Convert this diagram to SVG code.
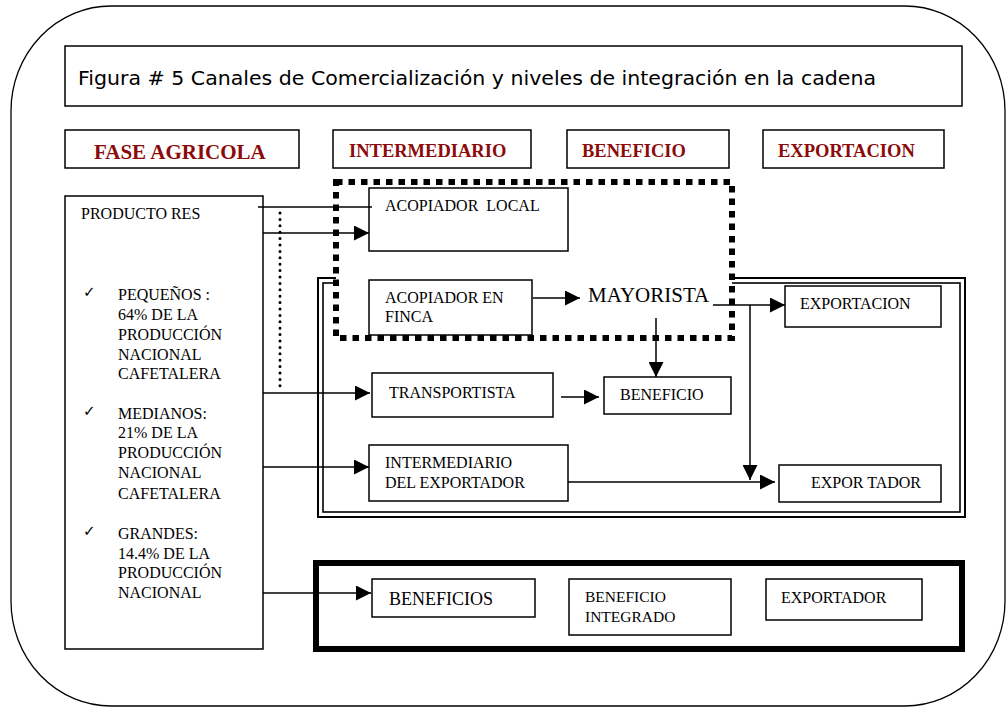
<svg xmlns="http://www.w3.org/2000/svg" width="1008" height="708" viewBox="0 0 1008 708">
<style>
  .box { fill: #fff; stroke: #000; stroke-width: 1.5; }
  .hdr { fill: #fff; stroke: #000; stroke-width: 1.5; }
  .ht { font-family: "Liberation Serif", "Times New Roman", serif; font-weight: bold; fill: #8b0a0a; }
  .t { font-family: "Liberation Serif", "Times New Roman", serif; font-size: 16px; fill: #000; }
  .big { font-size: 21px; }
  .chk { font-family: "DejaVu Sans", sans-serif; font-size: 15px; fill: #000; }
  .con { stroke: #000; stroke-width: 1.5; fill: none; }
  .arr { marker-end: url(#ah); }
</style>
<defs>
  <marker id="ah" markerUnits="userSpaceOnUse" markerWidth="16" markerHeight="15" refX="15" refY="7.5" orient="auto">
    <path d="M0,0 L15,7.5 L0,15 z" fill="#000"/>
  </marker>
</defs>
<rect width="1008" height="708" fill="#fff"/>

<g id="frame">
  <rect x="11" y="6" width="994" height="700" rx="100" ry="105" fill="none" stroke="#000" stroke-width="1.3"/>
</g>

<g id="title">
  <rect x="65" y="46" width="897" height="60" class="box"/>
  <text x="78" y="85" font-family="DejaVu Sans, sans-serif" font-size="19" textLength="798" lengthAdjust="spacingAndGlyphs">Figura # 5 Canales de Comercialización y niveles de integración en la cadena</text>
</g>

<g id="hdr-fase">
  <rect x="65" y="130" width="234" height="38" class="hdr"/>
  <text x="94" y="159" class="ht" font-size="21">FASE AGRICOLA</text>
</g>
<g id="hdr-intermediario">
  <rect x="333" y="130" width="198" height="38" class="hdr"/>
  <text x="349" y="157" class="ht" font-size="18.5">INTERMEDIARIO</text>
</g>
<g id="hdr-beneficio">
  <rect x="567" y="130" width="162" height="38" class="hdr"/>
  <text x="582" y="157" class="ht" font-size="18.5">BENEFICIO</text>
</g>
<g id="hdr-exportacion">
  <rect x="763" y="130" width="181" height="38" class="hdr"/>
  <text x="778" y="157" class="ht" font-size="18.5">EXPORTACION</text>
</g>

<g id="productores">
  <rect x="65" y="196" width="198" height="453" class="box"/>
  <text x="81" y="219" class="t">PRODUCTO RES</text>
  <text x="83" y="297" class="chk">✓</text>
  <text class="t">
    <tspan x="118" y="300">PEQUEÑOS :</tspan>
    <tspan x="118" y="320">64%  DE LA</tspan>
    <tspan x="118" y="340">PRODUCCIÓN</tspan>
    <tspan x="118" y="360">NACIONAL</tspan>
    <tspan x="118" y="379">CAFETALERA</tspan>
  </text>
  <text x="83" y="416" class="chk">✓</text>
  <text class="t">
    <tspan x="118" y="419">MEDIANOS:</tspan>
    <tspan x="118" y="438">21%  DE LA</tspan>
    <tspan x="118" y="458">PRODUCCIÓN</tspan>
    <tspan x="118" y="478">NACIONAL</tspan>
    <tspan x="118" y="499">CAFETALERA</tspan>
  </text>
  <text x="83" y="536" class="chk">✓</text>
  <text class="t">
    <tspan x="118" y="539">GRANDES:</tspan>
    <tspan x="118" y="559">14.4% DE LA</tspan>
    <tspan x="118" y="578">PRODUCCIÓN</tspan>
    <tspan x="118" y="598">NACIONAL</tspan>
  </text>
</g>

<g id="grupo-doble">
  <rect x="318" y="278" width="647" height="239" fill="none" stroke="#000" stroke-width="2"/>
  <rect x="323" y="283" width="637" height="229" fill="none" stroke="#000" stroke-width="1.6"/>
</g>

<g id="grupo-punteado">
  <rect x="336" y="182" width="396" height="156" fill="#fff" stroke="#000" stroke-width="6" stroke-dasharray="6.5 6"/>
</g>

<g id="grupo-integrado">
  <rect x="316" y="563" width="646" height="86" fill="none" stroke="#000" stroke-width="6"/>
</g>

<g id="acopiador-local">
  <rect x="369" y="188" width="199" height="63" class="box"/>
  <text x="385" y="211" class="t" xml:space="preserve">ACOPIADOR  LOCAL</text>
</g>
<g id="acopiador-finca">
  <rect x="369" y="280" width="163" height="55" class="box"/>
  <text class="t"><tspan x="385" y="303">ACOPIADOR EN</tspan><tspan x="385" y="322">FINCA</tspan></text>
</g>
<g id="mayorista">
  <text x="588" y="302" class="t big">MAYORISTA</text>
</g>
<g id="exportacion">
  <rect x="785" y="286" width="156" height="41" class="box"/>
  <text x="800" y="309" class="t">EXPORTACION</text>
</g>
<g id="transportista">
  <rect x="372" y="373" width="181" height="44" class="box"/>
  <text x="389" y="398" class="t">TRANSPORTISTA</text>
</g>
<g id="beneficio">
  <rect x="604" y="377" width="127" height="37" class="box"/>
  <text x="620" y="400" class="t">BENEFICIO</text>
</g>
<g id="intermediario-exportador">
  <rect x="369" y="445" width="199" height="56" class="box"/>
  <text class="t"><tspan x="385" y="468">INTERMEDIARIO</tspan><tspan x="385" y="488">DEL EXPORTADOR</tspan></text>
</g>
<g id="exportador">
  <rect x="779" y="465" width="162" height="37" class="box"/>
  <text x="811" y="488" class="t">EXPOR TADOR</text>
</g>
<g id="beneficios">
  <rect x="372" y="579" width="163" height="38" class="box"/>
  <text x="389" y="605" class="t" style="font-size:18px">BENEFICIOS</text>
</g>
<g id="beneficio-integrado">
  <rect x="569" y="579" width="162" height="56" class="box"/>
  <text class="t" style="font-size:15.5px"><tspan x="585" y="602">BENEFICIO</tspan><tspan x="585" y="622">INTEGRADO</tspan></text>
</g>
<g id="exportador-integrado">
  <rect x="766" y="579" width="156" height="41" class="box"/>
  <text x="781" y="603" class="t">EXPORTADOR</text>
</g>

<g id="connectors">
  <line x1="258" y1="207" x2="372" y2="207" class="con"/>
  <line x1="263" y1="233" x2="369" y2="233" class="con arr"/>
  <line x1="263" y1="393" x2="370" y2="393" class="con arr"/>
  <line x1="263" y1="467" x2="369" y2="467" class="con arr"/>
  <line x1="263" y1="593" x2="371" y2="593" class="con arr"/>
  <line x1="533" y1="298" x2="580" y2="298" class="con arr"/>
  <line x1="713" y1="305" x2="785" y2="305" class="con arr"/>
  <line x1="750" y1="305" x2="750" y2="480" class="con arr"/>
  <line x1="656" y1="318" x2="656" y2="377" class="con arr"/>
  <line x1="561" y1="397" x2="599" y2="397" class="con arr"/>
  <line x1="568" y1="482" x2="775" y2="482" class="con arr"/>
  <line x1="280" y1="213" x2="280" y2="388" stroke="#000" stroke-width="3" stroke-linecap="round" stroke-dasharray="0 6.4"/>
</g>
</svg>
